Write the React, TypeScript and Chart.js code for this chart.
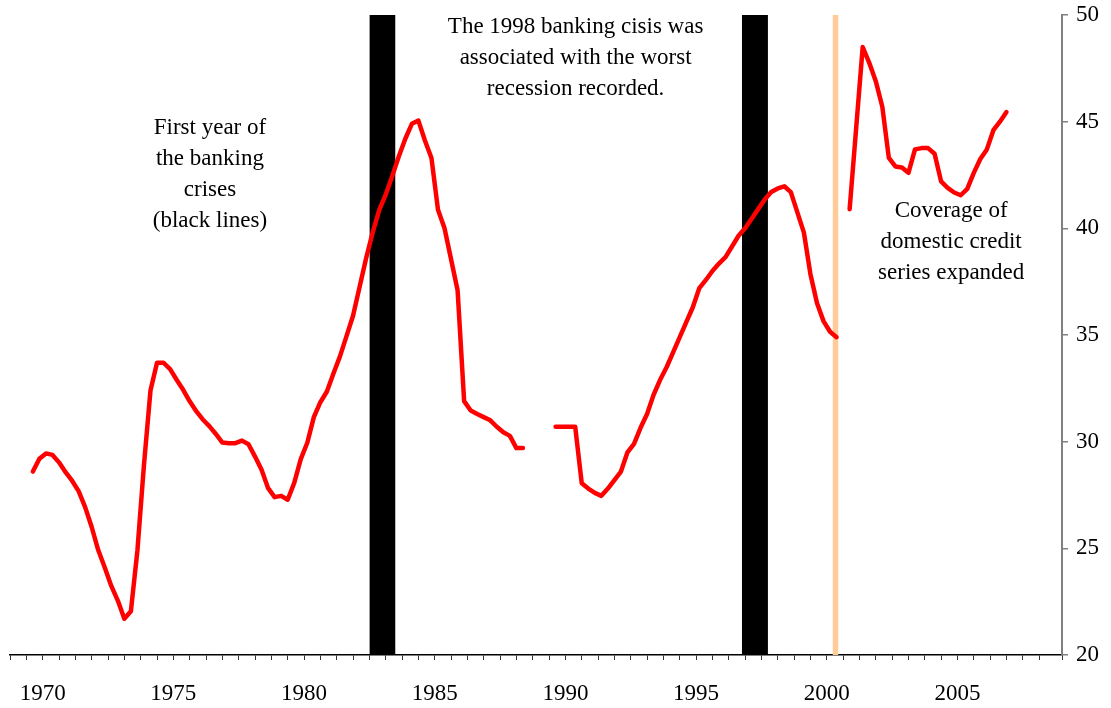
import React, { useEffect, useRef } from "react";
import { Chart, registerables } from "chart.js";

Chart.register(...registerables);

// X-axis tick labels (years)
const yearLabels = [1970, 1975, 1980, 1985, 1990, 1995, 2000, 2005];

// Domestic credit series (quarterly), three segments
const seg1Start = 1969.625;
const seg1 = [
  28.6, 29.2, 29.45, 29.38, 29.03, 28.57, 28.17, 27.68, 26.93, 26.0,
  24.92, 24.1, 23.24, 22.55, 21.7, 22.05, 24.9, 28.9, 32.4, 33.7,
  33.7, 33.4, 32.9, 32.43, 31.89, 31.43, 31.04, 30.73, 30.36, 29.96,
  29.93, 29.93, 30.05, 29.88, 29.3, 28.68, 27.82, 27.4, 27.46, 27.28,
  28.07, 29.18, 29.95, 31.15, 31.85, 32.35, 33.2, 34.0, 34.95, 35.9,
  37.25, 38.6, 39.8, 40.85, 41.58, 42.45, 43.37, 44.2, 44.9, 45.05,
  44.12, 43.3, 40.87, 40.0, 38.55, 37.1, 31.9, 31.46, 31.3, 31.15,
  31.0, 30.7, 30.44, 30.27, 29.7, 29.7,
];
const seg2Start = 1989.625;
const seg2 = [
  30.7, 30.7, 30.7, 30.7, 28.05, 27.8, 27.6, 27.46, 27.8, 28.2,
  28.6, 29.5, 29.9, 30.65, 31.3, 32.2, 32.9, 33.5, 34.2, 34.9,
  35.6, 36.3, 37.2, 37.58, 38.0, 38.35, 38.65, 39.15, 39.65, 40.0,
  40.45, 40.9, 41.35, 41.7, 41.87, 41.97, 41.7, 40.75, 39.8, 37.85,
  36.5, 35.65, 35.15, 34.9,
];
const seg3Start = 2000.875;
const seg3 = [
  40.9, 44.7, 48.5, 47.76, 46.9, 45.7, 43.3, 42.9, 42.85, 42.6,
  43.7, 43.76, 43.76, 43.5, 42.2, 41.9, 41.68, 41.55, 41.85, 42.6,
  43.25, 43.7, 44.6, 45.0, 45.45,
];

// Banking crises (black bands) and coverage break (orange band): [from, to]
const crisisBands = [
  [1982.5, 1983.5],
  [1996.75, 1997.75],
];
const coverageBand = [2000.22, 2000.45];

// Text annotations (anchor in data units)
const notes = [
  { x: 1976.4, y: 44.72, lines: ["First year of", "the banking", "crises", "(black lines)"] },
  { x: 1990.39, y: 49.46, lines: ["The 1998 banking cisis was", "associated with the worst", "recession recorded."] },
  { x: 2004.76, y: 40.83, lines: ["Coverage of", "domestic credit", "series expanded"] },
];

const FONT = '"Liberation Serif", "Times New Roman", serif';
const FSIZE = 23;

const toPoints = (start: number, vals: number[]) =>
  vals.map((v, i) => ({ x: start + i * 0.25, y: v }));

const notesPlugin = {
  id: "notes",
  afterDatasetsDraw(chart: any) {
    const { ctx } = chart;
    const xs = chart.scales.x;
    const ys = chart.scales.y;
    ctx.save();
    ctx.fillStyle = "#000";
    ctx.font = `${FSIZE}px ${FONT}`;
    ctx.textAlign = "center";
    ctx.textBaseline = "middle";
    notes.forEach((n) => {
      const px = xs.getPixelForValue(n.x);
      const py = ys.getPixelForValue(n.y);
      n.lines.forEach((t, i) => ctx.fillText(t, px, py + i * 31));
    });
    ctx.restore();
  },
};

export default function App() {
  const ref = useRef<HTMLCanvasElement | null>(null);

  useEffect(() => {
    if (!ref.current) return;
    const lineStyle = {
      borderColor: "#ff0000",
      borderWidth: 4.5,
      pointRadius: 0,
      tension: 0,
      fill: false,
      borderJoinStyle: "round" as const,
      borderCapStyle: "round" as const,
      order: 0,
    };
    const band = (b: number[], color: string) => ({
      data: [
        { x: b[0], y: 50 },
        { x: b[1], y: 50 },
      ],
      borderWidth: 0,
      borderColor: "rgba(0,0,0,0)",
      backgroundColor: color,
      pointRadius: 0,
      fill: "start",
      order: 1,
    });
    const chart = new Chart(ref.current, {
      type: "line",
      data: {
        datasets: [
          { ...lineStyle, data: toPoints(seg1Start, seg1) },
          { ...lineStyle, data: toPoints(seg2Start, seg2) },
          { ...lineStyle, data: toPoints(seg3Start, seg3) },
          ...crisisBands.map((b) => band(b, "#000000")),
          band(coverageBand, "#ffcc99"),
        ] as any,
      },
      options: {
        responsive: false,
        animation: false,
        devicePixelRatio: 1,
        layout: { padding: { left: 10, top: 15, right: 0, bottom: 0 } },
        plugins: { legend: { display: false }, tooltip: { enabled: false } },
        scales: {
          x: {
            type: "linear",
            position: "bottom",
            min: 1968.75,
            max: 2009,
            ticks: {
              stepSize: 0.625,
              autoSkip: false,
              maxRotation: 0,
              color: "#000",
              padding: 20,
              font: { family: FONT, size: FSIZE },
              callback: (v: any) => (yearLabels.includes(Number(v)) ? String(v) : ""),
            },
            grid: {
              drawOnChartArea: false,
              drawTicks: true,
              tickLength: 5,
              color: "#333",
              lineWidth: 1,
            },
            border: { color: "#000", width: 1.5 },
            afterFit: (s: any) => {
              s.height = 53;
              s.paddingLeft = 0;
              s.paddingRight = 0;
            },
          },
          y: {
            type: "linear",
            position: "right",
            min: 20,
            max: 50,
            ticks: {
              stepSize: 5,
              color: "#000",
              padding: 8,
              font: { family: FONT, size: FSIZE },
            },
            grid: {
              drawOnChartArea: false,
              drawTicks: true,
              tickLength: 6,
              color: "#808080",
              lineWidth: 1.5,
            },
            border: { color: "#808080", width: 2 },
            afterFit: (s: any) => {
              s.width = 49;
              s.paddingTop = 0;
              s.paddingBottom = 0;
            },
          },
        },
      } as any,
      plugins: [notesPlugin],
    });
    return () => chart.destroy();
  }, []);

  return (
    <div style={{ position: "absolute", left: 0, top: 0, width: 1111, height: 708, background: "#fff" }}>
      <canvas ref={ref} width={1111} height={708} />
    </div>
  );
}
